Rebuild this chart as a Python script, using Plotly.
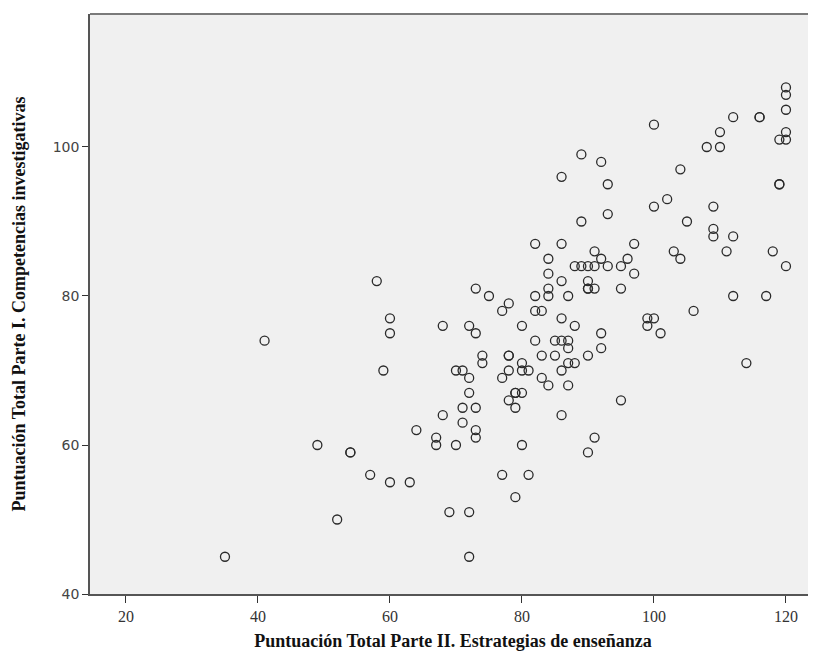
import plotly.graph_objects as go

# Puntuación Total Parte II (x) and Parte I (y)
x_vals = [35, 41, 49, 52, 54, 54, 57, 58, 59, 60, 60, 60, 63, 64, 67, 67, 68, 68, 69, 70,
          70, 71, 71, 71, 72, 72, 72, 72, 72, 73, 73, 73, 73, 73, 74, 74, 75, 77, 77, 77,
          78, 78, 78, 78, 78, 79, 79, 79, 79, 80, 80, 80, 80, 80, 81, 81, 82, 82, 82, 82,
          83, 83, 83, 84, 84, 84, 84, 84, 85, 85, 86, 86, 86, 86, 86, 86, 86, 87, 87, 87,
          87, 87, 88, 88, 88, 89, 89, 89, 90, 90, 90, 90, 90, 90, 91, 91, 91, 91, 92, 92,
          92, 92, 93, 93, 93, 95, 95, 95, 96, 97, 97, 99, 99, 100, 100, 100, 101, 102, 103, 104,
          104, 105, 106, 108, 109, 109, 109, 110, 110, 111, 112, 112, 112, 114, 116, 116, 117, 118, 119, 119,
          119, 120, 120, 120, 120, 120, 120]
y_vals = [45, 74, 60, 50, 59, 59, 56, 82, 70, 77, 75, 55, 55, 62, 61, 60, 76, 64, 51, 70,
          60, 70, 65, 63, 76, 69, 67, 51, 45, 81, 75, 65, 62, 61, 72, 71, 80, 78, 69, 56,
          79, 72, 72, 70, 66, 67, 67, 65, 53, 76, 71, 70, 67, 60, 70, 56, 87, 80, 78, 74,
          78, 72, 69, 85, 83, 81, 80, 68, 74, 72, 96, 87, 82, 77, 74, 70, 64, 80, 74, 73,
          71, 68, 84, 76, 71, 99, 90, 84, 84, 82, 81, 81, 72, 59, 86, 84, 81, 61, 98, 85,
          75, 73, 95, 91, 84, 84, 81, 66, 85, 87, 83, 77, 76, 77, 103, 92, 75, 93, 86, 97,
          85, 90, 78, 100, 92, 89, 88, 102, 100, 86, 104, 88, 80, 71, 104, 104, 80, 86, 101, 95,
          95, 108, 107, 105, 102, 101, 84]

x_ticks = [20, 40, 60, 80, 100, 120]
y_ticks = [40, 60, 80, 100]
x_title = "Puntuación Total Parte II. Estrategias de enseñanza"
y_title = "Puntuación Total Parte I. Competencias investigativas"

fig = go.Figure()
fig.add_trace(go.Scatter(
    x=x_vals, y=y_vals, mode="markers",
    marker=dict(symbol="circle-open", size=9, color="#2a2a2a", line=dict(width=1.3)),
    hoverinfo="x+y", showlegend=False,
))

fig.update_layout(
    width=808, height=651,
    margin=dict(l=82, r=0, t=6, b=65, autoexpand=False),
    paper_bgcolor="white",
    plot_bgcolor="#F0F0F0",
    xaxis=dict(
        range=[14.55, 124.55], tickvals=x_ticks, ticks="outside", ticklen=7, tickcolor="#333333",
        showgrid=False, zeroline=False, showline=True, linecolor="#555555", linewidth=1.5,
        automargin=False,
        tickfont=dict(family="Liberation Serif", size=16, color="#333333"),
        title=dict(text=x_title, standoff=10,
                   font=dict(family="Liberation Serif", size=18, color="#111111", weight="bold")),
    ),
    yaxis=dict(
        range=[40, 117.85], tickvals=y_ticks, ticks="outside", ticklen=6, tickcolor="#333333",
        showgrid=False, zeroline=False, showline=True, linecolor="#555555", linewidth=1.5,
        automargin=False,
        tickfont=dict(family="DejaVu Sans", size=14, color="#444444"),
        title=dict(text=y_title, standoff=22,
                   font=dict(family="Liberation Serif", size=18, color="#111111", weight="bold")),
    ),
    shapes=[dict(type="line", xref="paper", yref="paper", x0=0, x1=1, y0=1, y1=1,
                 line=dict(color="#7a7a7a", width=2))],
)

fig.write_html("out.html")
